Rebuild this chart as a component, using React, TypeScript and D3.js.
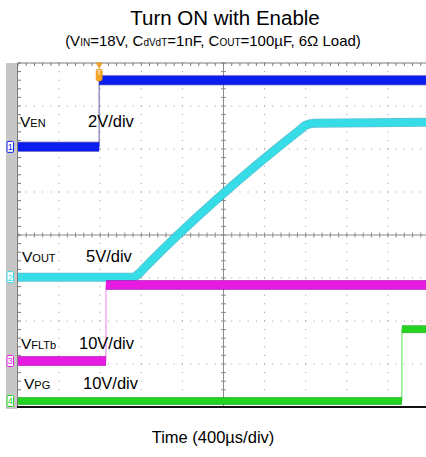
import React from 'react'
import * as d3 from 'd3'

// scope settings
const timePerDiv = 400 // µs
const xDivs = 10
const yDivs = 8
const channelNames = ['EN', 'OUT', 'FLTb', 'PG']
const channelScales = ['2V/div', '5V/div', '10V/div', '10V/div']
const voltsPerDiv = [2, 5, 10, 10]
const groundDiv = [2.05, -0.98, -2.93, -3.86]
const channelColors = ['#0a1ef0', '#36dce6', '#e61ae0', '#22d322']
const edgeColors = ['#0000a8', '#1aa8c0', '#a000a8', '#0a9a0a']
const stepColors = ['#8c8cbf', '#36dce6', '#f2a6f0', '#86ea86']

// traces, time in µs from left edge, volts
const enTime = [0, 790, 790, 4000]
const enVolts = [0, 0, 3.1, 3.1]
const outTime = [0, 1120, 1170, 1240, 2720, 2800, 2880, 4000]
const outVolts = [0, 0, 0.35, 1.2, 16.9, 17.65, 17.9, 18]
const fltTime = [0, 856, 856, 4000]
const fltVolts = [0, 0, 17.7, 17.7]
const pgTime = [0, 3736, 3736, 4000]
const pgVolts = [0, 0, 16.7, 16.7]

const W = 426
const H = 457
const left = 18
const top = 63
const divX = 41.1
const divY = 43

const x = d3.scaleLinear().domain([0, timePerDiv * xDivs]).range([left, left + divX * xDivs])
const y = d3.scaleLinear().domain([-yDivs / 2, yDivs / 2]).range([top + divY * yDivs, top])

const font = 'Liberation Sans, Arial, Helvetica, sans-serif'

type Seg = { pts: [number, number][]; step: boolean }

const splitTrace = (ch: number, ts: number[], vs: number[]): Seg[] => {
  const segs: Seg[] = []
  let cur: [number, number][] = []
  ts.forEach((t, i) => {
    const py = y(groundDiv[ch] + vs[i] / voltsPerDiv[ch])
    const px = x(t)
    if (i > 0 && ts[i - 1] === t) {
      segs.push({ pts: cur, step: false })
      const prev = cur[cur.length - 1]
      segs.push({ pts: [prev, [px, py]], step: true })
      cur = []
    }
    cur.push([px, py])
  })
  segs.push({ pts: cur, step: false })
  return segs
}

const App = () => {
  const line = d3.line<[number, number]>().curve(d3.curveMonotoneX)
  const straight = d3.line<[number, number]>()
  const traces = [
    splitTrace(0, enTime, enVolts),
    splitTrace(1, outTime, outVolts),
    splitTrace(2, fltTime, fltVolts),
    splitTrace(3, pgTime, pgVolts),
  ]
  const widths = [10, 9, 10, 8]
  const bottom = y(-yDivs / 2)
  const cx = x(timePerDiv * xDivs / 2)
  const cy = y(0)
  const minorX = d3.range(0, xDivs * 5 + 1).map((i) => left + (i * divX) / 5)
  const minorY = d3.range(0, yDivs * 5 + 1).map((i) => top + (i * divY) / 5)
  const majorX = d3.range(1, xDivs).map((i) => left + i * divX)
  const majorY = d3.range(1, yDivs).map((i) => top + i * divY)

  return (
    <svg width={W} height={H} style={{ position: 'absolute', left: 0, top: 0, background: '#fff' }} fontFamily={font}>
      <text x={225} y={25} textAnchor="middle" fontSize={20.5} fill="#000">Turn ON with Enable</text>
      <text x={213} y={46} textAnchor="middle" fontSize={15} fill="#000">
        (V<tspan fontSize={10}>IN</tspan>=18V, C<tspan fontSize={10}>dVdT</tspan>=1nF, C<tspan fontSize={10}>OUT</tspan>=100µF, 6Ω Load)
      </text>

      {/* left strip */}
      <rect x={6} y={top} width={11} height={bottom - top + 2} fill="#c6c6c6" />

      {/* dotted grid */}
      <g fill="#9a9a9a">
        {majorY.filter((v) => Math.abs(v - cy) > 1).map((gy) =>
          minorX.map((mx) => <rect key={`h${gy}-${mx}`} x={mx - 0.5} y={gy - 0.5} width={1} height={1} />))}
        {majorX.filter((v) => Math.abs(v - cx) > 1).map((gx) =>
          minorY.map((my) => <rect key={`v${gx}-${my}`} x={gx - 0.5} y={my - 0.5} width={1} height={1} />))}
      </g>

      {/* centre crosshair */}
      <g stroke="#8c8c8c" strokeWidth={1}>
        <line x1={left} x2={W} y1={cy} y2={cy} />
        <line x1={cx} x2={cx} y1={top} y2={bottom} />
        {minorX.map((mx) => <line key={`cx${mx}`} x1={mx} x2={mx} y1={cy - 2.5} y2={cy + 2.5} />)}
        {minorY.map((my) => <line key={`cy${my}`} x1={cx - 2.5} x2={cx + 2.5} y1={my} y2={my} />)}
      </g>

      {/* frame */}
      <g stroke="#7a7a7a" strokeWidth={1}>
        <line x1={left - 0.5} x2={W} y1={top} y2={top} />
        <line x1={left - 0.5} x2={left - 0.5} y1={top} y2={bottom} />
        {minorX.map((mx) => <line key={`tx${mx}`} x1={mx} x2={mx} y1={top} y2={top + 3} />)}
        {minorY.map((my) => <line key={`ly${my}`} x1={left} x2={left + 3} y1={my} y2={my} />)}
      </g>

      {/* traces */}
      {traces.map((segs, ch) => (
        <g key={ch} fill="none" strokeLinejoin="round">
          {segs.filter((s) => s.step).map((s, i) => (
            <path key={`s${i}`} d={straight(s.pts) || ''} stroke={stepColors[ch]} strokeWidth={1.4} />
          ))}
          {segs.filter((s) => !s.step).map((s, i) => (
            <g key={`b${i}`}>
              <path d={line(s.pts) || ''} stroke={edgeColors[ch]} strokeWidth={widths[ch]} strokeOpacity={0.7} />
              <path d={line(s.pts) || ''} stroke={channelColors[ch]} strokeWidth={widths[ch] - 1.6} />
            </g>
          ))}
        </g>
      ))}

      {/* trigger marker */}
      <g fill="#f5a623" stroke="#d98a10" strokeWidth={0.6}>
        <path d={`M${x(790) - 3},${top} L${x(790) + 3},${top} L${x(790)},${top + 5} Z`} />
        <rect x={x(790) - 3} y={top + 6} width={6} height={12} rx={2} />
      </g>
      <text x={x(790)} y={top + 12} textAnchor="middle" fontSize={7} fill="#fff">T</text>

      {/* bottom line */}
      <line x1={left - 1} x2={W} y1={bottom} y2={bottom} stroke="#111" strokeWidth={2} />

      {/* channel markers */}
      {groundDiv.map((g, ch) => (
        <g key={`m${ch}`}>
          <rect x={7} y={y(g) - 5.5} width={6.5} height={11} rx={1} fill="#fff" stroke={channelColors[ch]} strokeWidth={1} />
          <text x={10.25} y={y(g) + 3.5} textAnchor="middle" fontSize={9} fill={channelColors[ch]}>{ch + 1}</text>
        </g>
      ))}

      {/* channel labels */}
      {[
        [20, 127, 88],
        [22, 262, 86],
        [21, 349, 79],
        [24, 389, 83],
      ].map(([lx, ly, sx], ch) => (
        <g key={`l${ch}`} fill="#000">
          <text x={lx} y={ly} fontSize={15.5}>V<tspan fontSize={11}>{channelNames[ch]}</tspan></text>
          <text x={sx} y={ly} fontSize={16.5}>{channelScales[ch]}</text>
        </g>
      ))}

      <text x={213} y={443} textAnchor="middle" fontSize={16.5} fill="#000">Time (400µs/div)</text>
    </svg>
  )
}

export default App
